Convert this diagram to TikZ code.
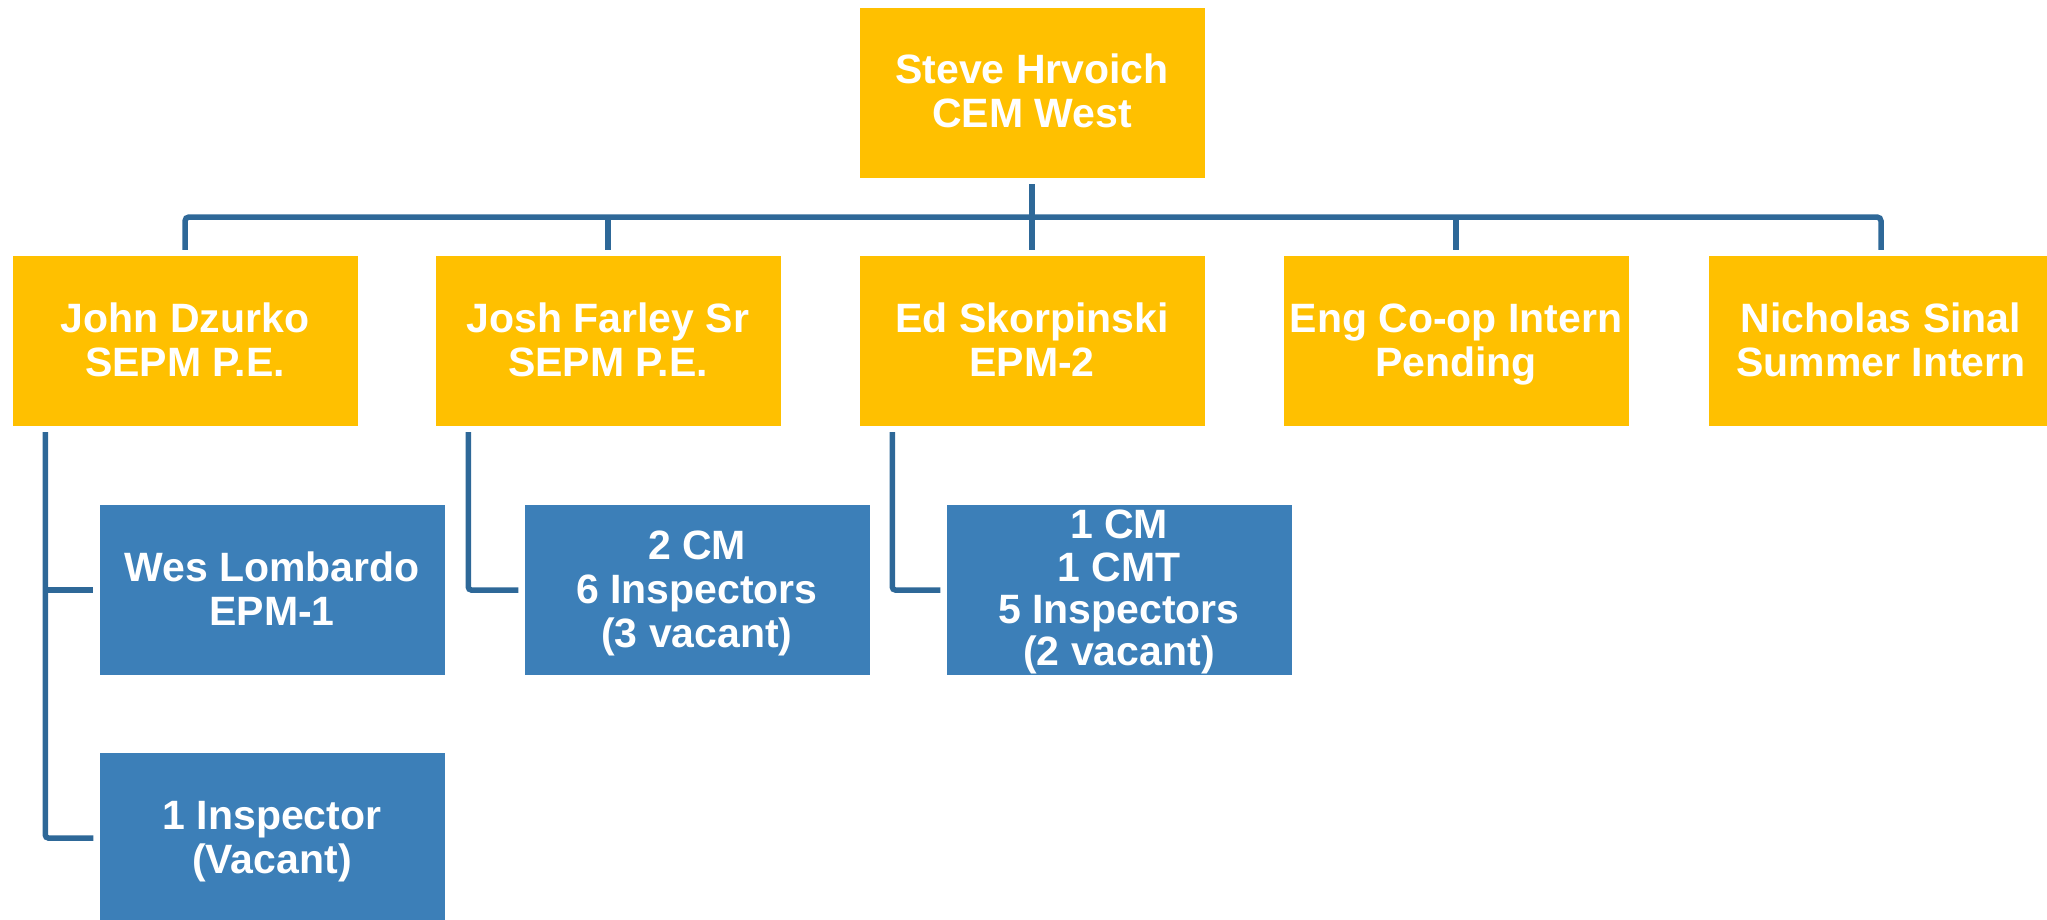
\documentclass[tikz,border=0pt]{standalone}
\usepackage{fontspec}
\setmainfont{Liberation Sans}
\definecolor{gold}{HTML}{FFC000}
\definecolor{boxblue}{HTML}{3C7FB8}
\definecolor{linkblue}{HTML}{2E6898}
\newcommand\ls{\rule[-9pt]{0pt}{44pt}}
\newcommand\lsb{\rule[-8.9pt]{0pt}{42.4pt}}
\begin{document}
\begin{tikzpicture}[x=1pt,y=-1pt,
  base/.style={rectangle, inner sep=0pt, minimum width=345pt, minimum height=170pt,
    text=white, align=center, font=\bfseries\fontsize{41}{44}\selectfont},
  goldbox/.style={base, fill=gold},
  bluebox/.style={base, fill=boxblue},
  conn/.style={draw=linkblue, line width=5.5pt}]
\useasboundingbox (0,0) rectangle (2047,920);
\node[goldbox] (top) at (1032,93) {\ls Steve Hrvoich\\\ls CEM West};
\node[goldbox] (r1) at (185,341) {\ls John Dzurko\\\ls SEPM P.E.};
\node[goldbox] (r2) at (608,341) {\ls Josh Farley Sr\\\ls SEPM P.E.};
\node[goldbox] (r3) at (1032,341) {\ls Ed Skorpinski\\\ls EPM-2};
\node[goldbox] (r4) at (1456,341) {\ls Eng Co-op Intern\\\ls Pending};
\node[goldbox] (r5) at (1881,341) {\ls Nicholas Sinal\\\ls Summer Intern};
\node[bluebox] (b1) at (272,590) {\ls Wes Lombardo\\\ls EPM-1};
\node[bluebox] (b2) at (697,590) {\ls 2 CM\\\ls 6 Inspectors\\\ls (3 vacant)};
\node[bluebox, font=\bfseries\fontsize{41}{42.4}\selectfont] (b3) at (1119,590) {\lsb 1 CM\\\lsb 1 CMT\\\lsb 5 Inspectors\\\lsb (2 vacant)};
\node[bluebox] (b4) at (272,838) {\ls 1 Inspector\\\ls (Vacant)};
% bus
\coordinate (busy) at (0,217);
\draw[conn, rounded corners=4pt] ([yshift=6pt]r1.north) -- (r1.north |- busy) -- (r5.north |- busy) -- ([yshift=6pt]r5.north);
\draw[conn] ([yshift=6pt]r2.north) -- (r2.north |- busy);
\draw[conn] ([yshift=6pt]r4.north) -- (r4.north |- busy);
\draw[conn] ([yshift=-6pt]top.south) -- ([yshift=6pt]r3.north);
% sub connectors
\coordinate (s1) at ([xshift=33pt,yshift=-6pt]r1.south west);
\coordinate (s2) at ([xshift=33pt,yshift=-6pt]r2.south west);
\coordinate (s3) at ([xshift=33pt,yshift=-6pt]r3.south west);
\draw[conn, rounded corners=3pt] (s1) -- (s1 |- b4.west) -- ([xshift=-6pt]b4.west);
\draw[conn] (s1 |- b1.west) -- ([xshift=-6pt]b1.west);
\draw[conn, rounded corners=3pt] (s2) -- (s2 |- b2.west) -- ([xshift=-6pt]b2.west);
\draw[conn, rounded corners=3pt] (s3) -- (s3 |- b3.west) -- ([xshift=-6pt]b3.west);
\end{tikzpicture}
\end{document}
